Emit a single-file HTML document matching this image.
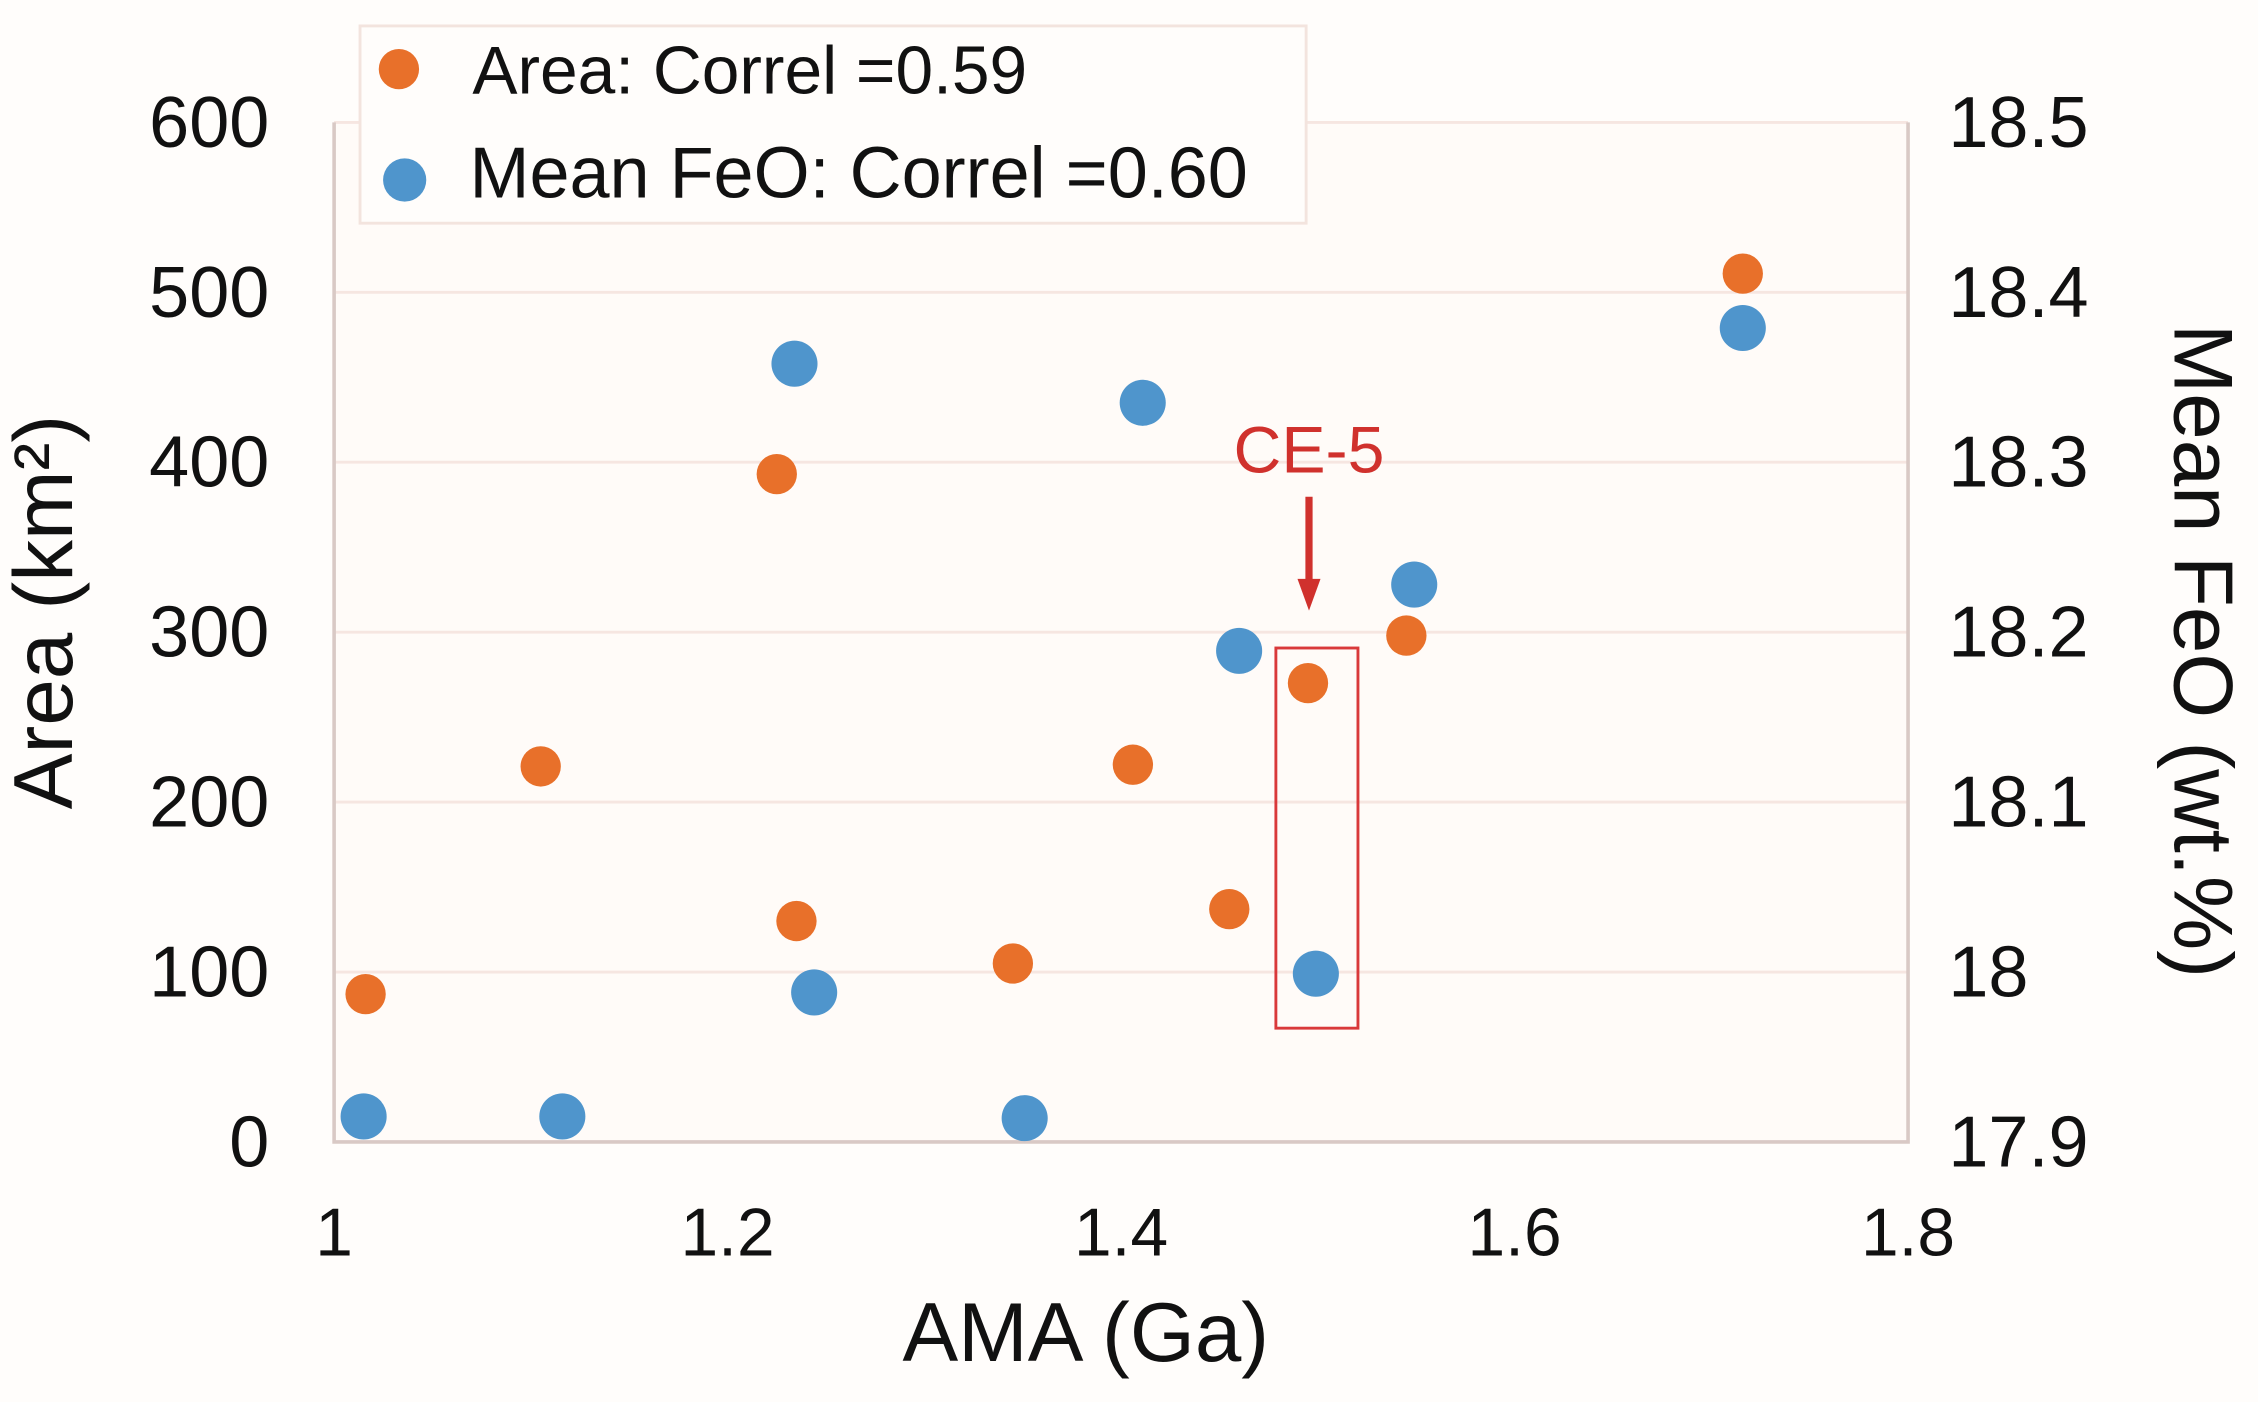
<!DOCTYPE html>
<html><head><meta charset="utf-8"><style>
html,body{margin:0;padding:0;background:#fffdfb;}
svg{display:block;font-family:"Liberation Sans",Arial,sans-serif;}
</style></head><body>
<svg width="2258" height="1402" viewBox="0 0 1568 973.6" xmlns="http://www.w3.org/2000/svg">
<rect x="0" y="0" width="1568" height="974" fill="#fffdfb"/>
<g id="grid"></g>
<g id="axes"></g>
<g id="marks"></g>
<rect x="886" y="450" width="57" height="264" fill="none" stroke="#d9393a" stroke-width="2"/>
<text x="909" y="328" font-size="46" fill="#d0312d" text-anchor="middle">CE-5</text>
<line x1="909" y1="345" x2="909" y2="405" stroke="#d0312d" stroke-width="5"/>
<polygon points="901,402 917,402 909,424" fill="#d0312d"/>
<g>
<rect x="250" y="18" width="657" height="137" fill="#fffdfb" stroke="#f3e4de" stroke-width="2"/>
<circle cx="277" cy="48" r="14" fill="#e8702a"/>
<text x="328" y="65" font-size="47" fill="#111">Area: Correl =0.59</text>
<circle cx="281" cy="125" r="15" fill="#4f95cc"/>
<text x="326" y="137" font-size="50" fill="#111">Mean FeO: Correl =0.60</text>
</g>
<text x="754" y="945" font-size="58" fill="#111" text-anchor="middle">AMA (Ga)</text>
<text transform="translate(50,425) rotate(-90)" font-size="58" fill="#111" text-anchor="middle">Area (km²)</text>
<text transform="translate(1510,452) rotate(90)" font-size="58" fill="#111" text-anchor="middle">Mean FeO (wt.%)</text>
</svg>
<script>
const areaAMA=[1.016,1.105,1.225,1.235,1.345,1.406,1.455,1.495,1.545,1.716];
const areaVals=[87,221,393,130,105,222,137,270,298,511];
const feoAMA=[1.015,1.116,1.234,1.244,1.351,1.411,1.460,1.499,1.549,1.716];
const feoVals=[17.915,17.915,18.358,17.988,17.914,18.335,18.189,17.999,18.228,18.379];
const xTicks=[1,1.2,1.4,1.6,1.8];
const xTickLabels=["1","1.2","1.4","1.6","1.8"];
const yLeftTicks=[0,100,200,300,400,500,600];
const yRightTicks=[17.9,18,18.1,18.2,18.3,18.4,18.5];
const yRightLabels=["17.9","18","18.1","18.2","18.3","18.4","18.5"];

const X0=232,X1=1325,Y0=793,Y1=85;
function xs(v){return X0+(v-1)/(0.8)*(X1-X0);}
function yl(v){return Y0-v/600*(Y0-Y1);}
function yr(v){return Y0-(v-17.9)/0.6*(Y0-Y1);}
const NS="http://www.w3.org/2000/svg";
function mk(tag,attrs,parent){const e=document.createElementNS(NS,tag);for(const k in attrs)e.setAttribute(k,attrs[k]);parent.appendChild(e);return e;}
const grid=document.getElementById('grid'),axes=document.getElementById('axes'),marks=document.getElementById('marks');
mk('rect',{x:X0,y:Y1,width:X1-X0,height:Y0-Y1,fill:'#fffbf8'},grid);
yLeftTicks.forEach((t,i)=>{
  if(t>0){const g=mk('line',{x1:X0,x2:X1,y1:yl(t),y2:yl(t),stroke:'#f6e6e1','stroke-width':2},grid);
  
  }
  const l=mk('text',{x:187,y:yl(t)+17,'font-size':50,fill:'#111','text-anchor':'end'},axes);
  l.textContent=String(t);
  
  
});
yRightTicks.forEach((t,i)=>{
  const l=mk('text',{x:1353,y:yr(t)+17,'font-size':50,fill:'#111','text-anchor':'start'},axes);
  l.textContent=yRightLabels[i];
  
  
});
xTicks.forEach((t,i)=>{
  const l=mk('text',{x:xs(t),y:872,'font-size':47,fill:'#111','text-anchor':'middle'},axes);
  l.textContent=xTickLabels[i];
  
  
});
const ax=mk('path',{d:`M${X0},${Y1}V${Y0}H${X1}V${Y1}`,fill:'none',stroke:'#d9c9c5','stroke-width':2.5},axes);


areaAMA.forEach((a,i)=>{
  const c=mk('circle',{cx:xs(a),cy:yl(areaVals[i]),r:14,fill:'#e8702a'},marks);
  
  
});
feoAMA.forEach((a,i)=>{
  const c=mk('circle',{cx:xs(a),cy:yr(feoVals[i]),r:16,fill:'#4f95cc'},marks);
  
  
});
</script>
</body></html>
